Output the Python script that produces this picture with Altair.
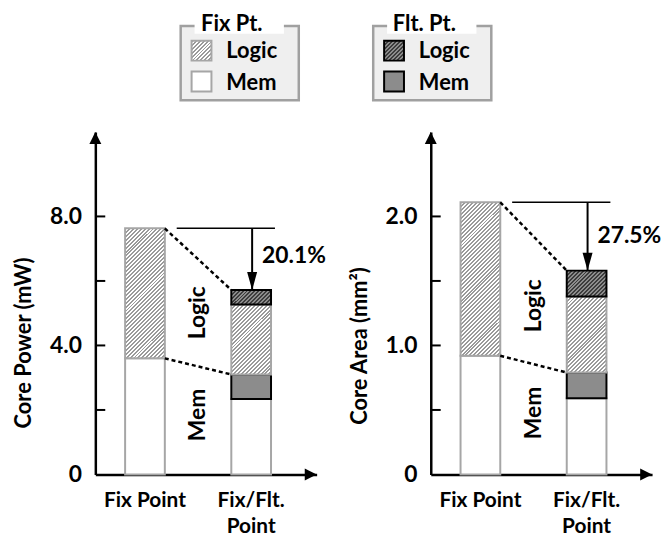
import math
import altair as alt
import pandas as pd

# ---------------- data ----------------
categories = ["Fix Point", "Fix/Flt. Point"]
segments = ["Fix Mem", "Flt Mem", "Fix Logic", "Flt Logic"]  # bottom -> top

power_fix_mem = [3.60, 2.34]
power_flt_mem = [0.00, 0.76]
power_fix_logic = [4.03, 2.17]
power_flt_logic = [0.00, 0.45]

area_fix_mem = [0.92, 0.59]
area_flt_mem = [0.00, 0.20]
area_fix_logic = [1.19, 0.59]
area_flt_logic = [0.00, 0.20]

power_ticks = [2, 4, 6, 8]
power_labels = [0, 4, 8]
area_ticks = [0.5, 1.0, 1.5, 2.0]
area_labels = [0, 1, 2]

reductions = ["20.1%", "27.5%"]
y_titles = ["Core Power (mW)", "Core Area (mm²)"]
legend_titles = ["Fix Pt.", "Flt. Pt."]
legend_items = ["Logic", "Mem"]
region_labels = ["Logic", "Mem"]

# ---------------- style ----------------
FONT = "Lato"
W, H = 223, 345
PX_PER_UNIT = [32.5, 130.0]
GRAY_EDGE = "#a6a6a6"
HATCH_LINE = "#9a9a9a"
FLT_FILL = "#8c8c8c"
FLT_HATCH = "#3c3c3c"
BAND_W = 40


def hatch(w, h, bg, fg, period=2.8, frac=0.5):
    D = (w + h) / math.sqrt(2)
    k = (w + h) / (w * w + h * h)
    pt = period / D
    stops = []
    t = 0.0
    while t < 1.0:
        t1 = min(t + frac * pt, 1.0)
        t2 = min(t + pt, 1.0)
        stops += [
            {"offset": round(t, 5), "color": fg},
            {"offset": round(t1, 5), "color": fg},
            {"offset": round(t1, 5), "color": bg},
            {"offset": round(t2, 5), "color": bg},
        ]
        t += pt
    return {"gradient": "linear", "x1": 0, "y1": 0, "x2": k * w, "y2": k * h, "stops": stops}


def seg_style(seg, w, h):
    if seg == "Fix Mem":
        return dict(fill="white", stroke=GRAY_EDGE)
    if seg == "Flt Mem":
        return dict(fill=FLT_FILL, stroke="black")
    if seg == "Fix Logic":
        return dict(fill=hatch(w, h, "white", HATCH_LINE), stroke=GRAY_EDGE)
    return dict(fill=hatch(w, h, FLT_FILL, FLT_HATCH), stroke="black")


ONE = pd.DataFrame({"k": [0]})


def text_layer(text, x, y, size=22, align="left", baseline="alphabetic", angle=0):
    return alt.Chart(ONE).mark_text(
        text=text, font=FONT, fontWeight="bold", fontSize=size, color="black",
        align=align, baseline=baseline, angle=angle,
    ).encode(x=alt.value(x), y=alt.value(y))


def rect_layer(x, x2, y, y2, **kw):
    return alt.Chart(ONE).mark_rect(**kw).encode(
        x=alt.value(x), x2=alt.value(x2), y=alt.value(y), y2=alt.value(y2))


UP = "M0,0L-0.5,1L0.5,1Z"
RIGHT = "M0,0L-1,-0.5L-1,0.5Z"
DOWN = "M0,0L-0.28,-1L0.28,-1Z"


def panel(i, fix_mem, flt_mem, fix_logic, flt_logic, ticks, labels, legend_x0, legend_kind):
    ppu = PX_PER_UNIT[i]
    ymax = H / ppu
    cols = [fix_mem, flt_mem, fix_logic, flt_logic]
    rows = []
    for c, cat in enumerate(categories):
        acc = 0.0
        for s, seg in enumerate(segments):
            v = cols[s][c]
            if v > 0:
                rows.append(dict(cat=cat, seg=seg, y0=acc, y1=acc + v))
            acc += v
    df = pd.DataFrame(rows)

    X = alt.X("cat:N", sort=categories,
              scale=alt.Scale(domain=categories, paddingInner=0.626, paddingOuter=0.355, align=0.395),
              axis=alt.Axis(title=None, labelAngle=0, ticks=False, labelPadding=15,
                            labelFontSize=21, labelLineHeight=26,
                            labelExpr="datum.value == 'Fix/Flt. Point' ? ['Fix/Flt.', 'Point'] : datum.value"))
    Y = alt.Y("y0:Q", scale=alt.Scale(domain=[0, ymax], nice=False, zero=True),
              axis=alt.Axis(values=labels, ticks=False, labelPadding=14, labelFontSize=23,
                            labelExpr="datum.value == 0 ? '0' : format(datum.value, '.1f')",
                            title=y_titles[i], titleFontSize=22, titlePadding=14,
                            titleY=[212, 215][i]))

    layers = []
    for _, r in df.iterrows():
        h = (r.y1 - r.y0) * ppu
        st = seg_style(r.seg, BAND_W, h)
        layers.append(
            alt.Chart(pd.DataFrame([r])).mark_bar(strokeWidth=2, **st).encode(
                x=X, y=Y, y2=alt.Y2("y1:Q")))

    # inward ticks
    layers.append(alt.Chart(pd.DataFrame({"y0": ticks})).mark_rule(color="black", strokeWidth=2).encode(
        y=Y, x=alt.value(0), x2=alt.value(10)))

    fix_total = fix_mem[0] + flt_mem[0] + fix_logic[0] + flt_logic[0]
    mix_total = fix_mem[1] + flt_mem[1] + fix_logic[1] + flt_logic[1]
    fix_mem_top = fix_mem[0]
    mix_mem_top = fix_mem[1] + flt_mem[1]

    # dashed connectors
    dash = pd.DataFrame({"y0": [fix_total, fix_mem_top], "y1": [mix_total, mix_mem_top]})
    layers.append(alt.Chart(dash).mark_rule(color="black", strokeWidth=2.5, strokeDash=[4, 3]).encode(
        y=Y, y2="y1:Q", x=alt.value(70), x2=alt.value(137)))

    # reduction arrow
    top = pd.DataFrame({"y0": [fix_total], "y1": [mix_total]})
    layers.append(alt.Chart(top).mark_rule(color="black", strokeWidth=1.5).encode(
        y=Y, x=alt.value(82), x2=alt.value(181)))
    layers.append(alt.Chart(top).mark_rule(color="black", strokeWidth=2).encode(
        y=Y, y2="y1:Q", x=alt.value(158)))
    layers.append(alt.Chart(pd.DataFrame({"y0": [mix_total]})).mark_point(
        shape=DOWN, size=1296, filled=True, color="black", opacity=1, strokeWidth=0).encode(
        y=Y, x=alt.value(158)))
    layers.append(text_layer(reductions[i], 168, [125, 105][i], size=23, baseline="middle"))

    # region labels
    ly = [(182, 285), (175, 283)][i]
    layers.append(text_layer(region_labels[0], 104, ly[0], size=23, angle=270, align="center", baseline="middle"))
    layers.append(text_layer(region_labels[1], 104, ly[1], size=23, angle=270, align="center", baseline="middle"))

    # axis arrows
    layers.append(alt.Chart(ONE).mark_point(shape=UP, size=576, filled=True, color="black",
                                            opacity=1, strokeWidth=0).encode(x=alt.value(0), y=alt.value(0)))
    layers.append(alt.Chart(ONE).mark_point(shape=RIGHT, size=576, filled=True, color="black",
                                            opacity=1, strokeWidth=0).encode(x=alt.value(W), y=alt.value(H)))

    # legend box
    lx = legend_x0
    layers.append(rect_layer(lx, lx + 119, -107, -32, fill="#efefef", stroke="#a0a0a0", strokeWidth=2.5))
    layers.append(rect_layer(lx + 14, lx + 104, -119, -99, fill="white"))
    layers.append(text_layer(legend_titles[i], lx + 51.5, -102, size=22, align="center"))
    if legend_kind == "fix":
        sw1 = dict(fill=hatch(20, 20, "white", HATCH_LINE), stroke=GRAY_EDGE, strokeWidth=2)
        sw2 = dict(fill="white", stroke=GRAY_EDGE, strokeWidth=2)
    else:
        sw1 = dict(fill=hatch(20, 20, FLT_FILL, FLT_HATCH), stroke="black", strokeWidth=2)
        sw2 = dict(fill=FLT_FILL, stroke="black", strokeWidth=2)
    layers.append(rect_layer(lx + 11, lx + 31, -92, -72, **sw1))
    layers.append(rect_layer(lx + 11, lx + 31, -61, -41, **sw2))
    layers.append(text_layer(legend_items[0], lx + 46, -75, size=22))
    layers.append(text_layer(legend_items[1], lx + 46, -42, size=22))

    return alt.layer(*layers).properties(width=W, height=H)


left = panel(0, power_fix_mem, power_flt_mem, power_fix_logic, power_flt_logic,
             power_ticks, power_labels, 86, "fix")
right = panel(1, area_fix_mem, area_flt_mem, area_fix_logic, area_flt_logic,
              area_ticks, area_labels, -58, "flt")

chart = alt.hconcat(left, right, spacing=115, bounds="flush").properties(
    padding={"left": 4, "top": 3, "right": 0, "bottom": 0}
).configure_view(stroke=None).configure_axis(
    labelFont=FONT, titleFont=FONT, labelFontWeight="bold", titleFontWeight="bold",
    labelColor="black", titleColor="black", domainColor="black", domainWidth=2.5, grid=False,
)

chart.save("out.html", embed_options={"renderer": "svg", "actions": False})
